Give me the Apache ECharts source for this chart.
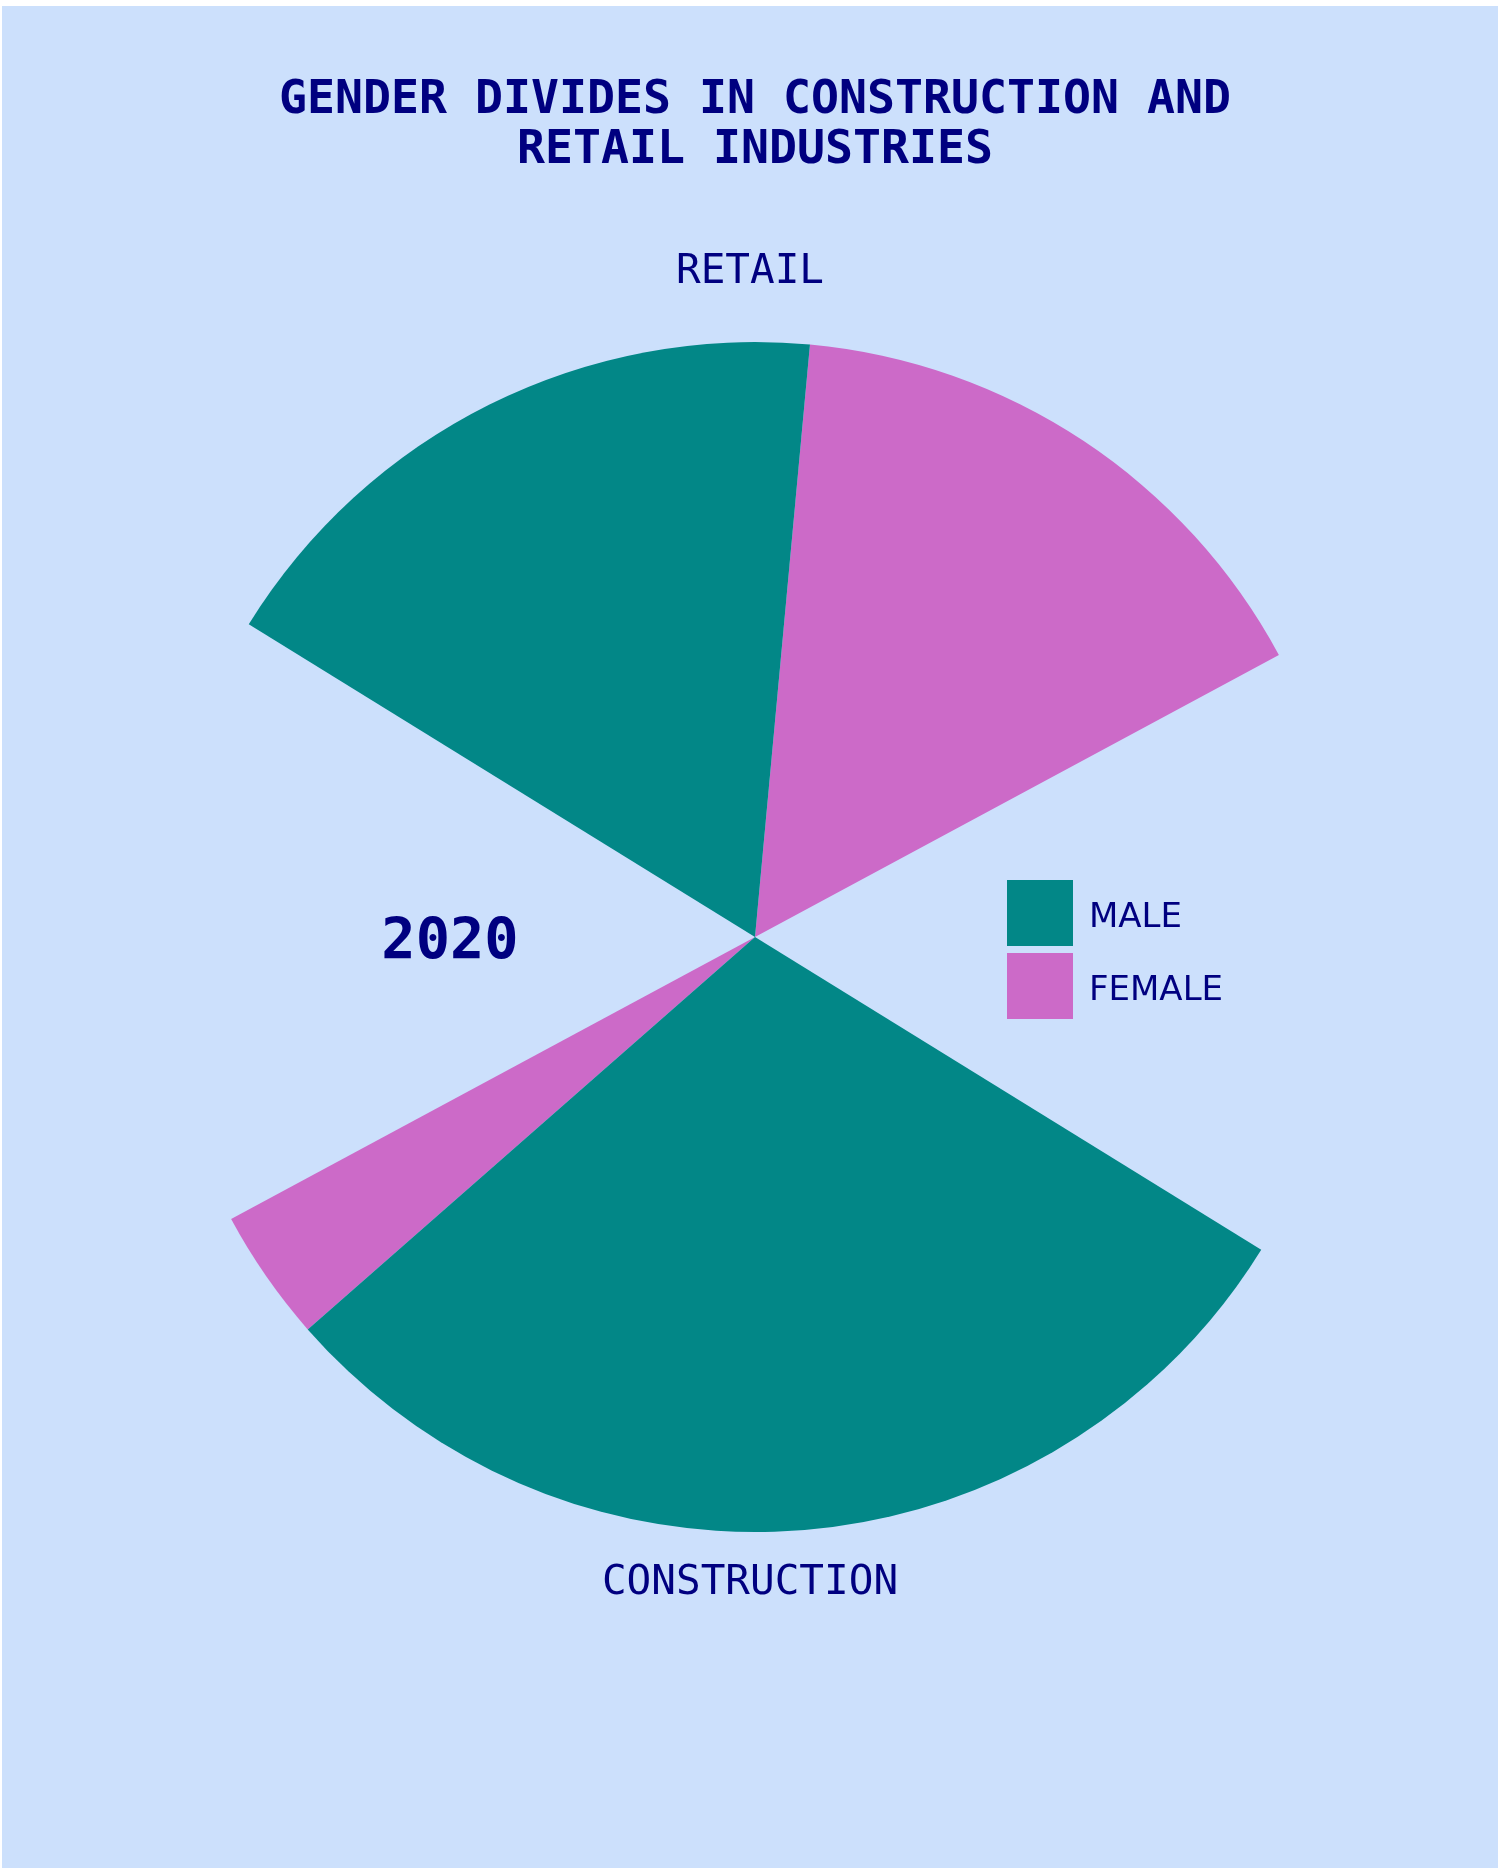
<!DOCTYPE html>
<html><head><meta charset="utf-8">
<script src="https://cdn.jsdelivr.net/npm/echarts@6/dist/echarts.min.js"></script>
<style>
html,body{margin:0;padding:0;background:#ffffff;width:1500px;height:1875px;overflow:hidden}
#c{position:absolute;left:2px;top:6px;width:1496px;height:1862px;background:#cce0fc}
</style></head>
<body><div id="c"></div>
<script>
// ---- data ----
const categories = ['RETAIL', 'CONSTRUCTION'];
const seriesNames = ['MALE', 'FEMALE'];
const maleShare = [53.0, 89.2];    // % of workers
const femaleShare = [47.0, 10.8];  // % of workers
const yearLabel = '2020';
const titleText = 'GENDER DIVIDES IN CONSTRUCTION AND\nRETAIL INDUSTRIES';
const categoryAngles = [90, 270];  // angular axis tick of each industry

// ---- layout / style ----
const SPAN = 120;      // degrees covered by 100 %
const OFFSET = -1.7;   // slight rotation of the sectors
const NAVY = '#000080';
const COLORS = { MALE: '#028787', FEMALE: '#cc6ac8' };
const MONO = '"DejaVu Sans Mono", monospace';

const series = [];
let cursor = 0;
categories.forEach((cat, i) => {
  const start = categoryAngles[i] - SPAN / 2 + OFFSET;
  series.push({
    name: '_gap' + i, type: 'bar', coordinateSystem: 'polar', stack: 'all',
    barWidth: '100%', silent: true, data: [start - cursor],
    itemStyle: { color: 'rgba(0,0,0,0)' }
  });
  series.push({
    name: 'FEMALE', type: 'bar', coordinateSystem: 'polar', stack: 'all',
    barWidth: '100%', data: [femaleShare[i] * SPAN / 100],
    itemStyle: { color: COLORS.FEMALE }
  });
  series.push({
    name: 'MALE', type: 'bar', coordinateSystem: 'polar', stack: 'all',
    barWidth: '100%', data: [maleShare[i] * SPAN / 100],
    itemStyle: { color: COLORS.MALE }
  });
  cursor = start + SPAN;
});

const chart = echarts.init(document.getElementById('c'), null, { renderer: 'canvas' });
chart.setOption({
  animation: false,
  backgroundColor: '#cce0fc',
  title: [
    {
      text: titleText, left: 748, top: 65, textAlign: 'center',
      textStyle: { fontFamily: MONO, fontWeight: 'bold', fontSize: 46.5, lineHeight: 50, color: NAVY }
    },
    {
      text: yearLabel, left: 443, top: 905, textAlign: 'center',
      textStyle: { fontFamily: MONO, fontWeight: 'bold', fontSize: 57, color: NAVY }
    }
  ],
  legend: {
    data: seriesNames, orient: 'vertical', left: 1000, top: 869,
    itemWidth: 66, itemHeight: 66, itemGap: 7, icon: 'rect',
    formatter: function (name) { return '{a|' + name + '}'; },
    textStyle: {
      fontFamily: '"DejaVu Sans", sans-serif', fontSize: 34, color: NAVY, padding: [0, 0, 0, 11],
      rich: { a: { fontFamily: '"DejaVu Sans", sans-serif', fontSize: 34, color: NAVY, padding: [10, 0, 0, 0] } }
    }
  },
  polar: { center: [753, 931], radius: 595 },
  radiusAxis: { type: 'category', data: ['all'], show: false },
  angleAxis: {
    type: 'value', min: 0, max: 360, interval: 90, startAngle: 0, clockwise: false,
    axisLine: { show: false }, axisTick: { show: false }, splitLine: { show: false },
    axisLabel: {
      margin: 31,
      formatter: function (v) {
        const idx = categoryAngles.indexOf(v);
        if (idx < 0) return '';
        return idx === 0 ? '{t|' + categories[idx] + '}' : '{b|' + categories[idx] + '}';
      },
      rich: {
        t: { fontFamily: MONO, fontSize: 41, color: NAVY, padding: [0, 10, 18, 0] },
        b: { fontFamily: MONO, fontSize: 41, color: NAVY, padding: [0, 10, 0, 0] }
      }
    }
  },
  series: series
});
</script>
</body></html>
